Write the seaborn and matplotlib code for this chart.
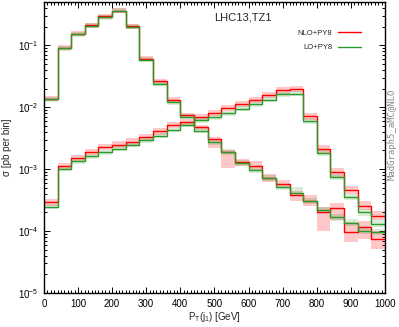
import numpy as np
import pandas as pd
import matplotlib
matplotlib.use('Agg')
import matplotlib.pyplot as plt
from matplotlib.ticker import MultipleLocator, LogLocator, NullFormatter
import seaborn as sns

# bin edges (40 GeV bins)
edges = np.arange(0, 1001, 40)

# 分布 A: 峰值在 ~200 GeV
nlo_a = [1.37e-2, 9.18e-2, 1.545e-1, 2.11e-1, 2.92e-1, 3.59e-1, 2.03e-1, 6.1e-2, 2.61e-2, 1.31e-2,
         7.43e-3, 4.7e-3, 3.06e-3, 1.88e-3, 1.29e-3, 1.13e-3, 7.2e-4, 5.75e-4, 3.79e-4, 3.09e-4,
         2.0e-4, 2.4e-4, 9.8e-5, 1.17e-4, 7.4e-5]
lo_a = [1.34e-2, 8.94e-2, 1.51e-1, 2.05e-1, 2.81e-1, 3.59e-1, 1.98e-1, 5.87e-2, 2.4e-2, 1.21e-2,
        6.95e-3, 4.2e-3, 2.72e-3, 1.87e-3, 1.24e-3, 9.8e-4, 7.2e-4, 5.2e-4, 4.05e-4, 3.09e-4,
        2.18e-4, 1.66e-4, 1.37e-4, 1.01e-4, 9.7e-5]

# 分布 B: 峰值在 ~750 GeV
nlo_b = [2.9e-4, 1.14e-3, 1.52e-3, 1.87e-3, 2.25e-3, 2.49e-3, 2.79e-3, 3.27e-3, 4.05e-3, 5.16e-3,
         5.83e-3, 6.82e-3, 8.07e-3, 9.73e-3, 1.117e-2, 1.306e-2, 1.55e-2, 1.866e-2, 1.94e-2, 7.08e-3,
         2.12e-3, 8.87e-4, 4.6e-4, 2.56e-4, 1.77e-4]
lo_b = [2.47e-4, 1.01e-3, 1.34e-3, 1.61e-3, 1.87e-3, 2.12e-3, 2.49e-3, 2.9e-3, 3.49e-3, 4.28e-3,
        5.2e-3, 6.1e-3, 6.9e-3, 8.0e-3, 9.44e-3, 1.11e-2, 1.32e-2, 1.61e-2, 1.65e-2, 5.94e-3,
        1.83e-3, 7.36e-4, 3.59e-4, 2.0e-4, 1.32e-4]

# 误差带 (dex, 上/下)
nlo_a_up = [0.04] * 13 + [0.03, 0.06, 0.07, 0.07, 0.07, 0.065, 0.09, 0.09, 0.08, 0.16, 0.10, 0.13]
nlo_a_dn = [0.04] * 12 + [0.15, 0.25, 0.06, 0.07, 0.07, 0.07, 0.10, 0.09, 0.30, 0.20, 0.16, 0.20, 0.16]
lo_a_up = [0.04] * 13 + [0.05, 0.05, 0.05, 0.05, 0.05, 0.10, 0.05, 0.05, 0.05, 0.06, 0.05, 0.05]
lo_a_dn = [0.04] * 13 + [0.05, 0.05, 0.05, 0.05, 0.05, 0.03, 0.05, 0.05, 0.05, 0.06, 0.05, 0.05]
nlo_b_up = [0.05] * 19 + [0.06, 0.06, 0.07, 0.07, 0.07, 0.07]
nlo_b_dn = [0.05] * 19 + [0.06, 0.06, 0.07, 0.07, 0.07, 0.07]
lo_b_up = [0.04] * 19 + [0.05] * 6
lo_b_dn = [0.04] * 19 + [0.05] * 6

red = '#ff0000'
green = '#2a9a2a'

sns.set_theme(style='ticks')
plt.rcParams['font.family'] = ['Liberation Sans', 'DejaVu Sans']
plt.rcParams['mathtext.fontset'] = 'custom'
plt.rcParams['mathtext.rm'] = 'Liberation Sans'

fig = plt.figure(figsize=(3.99, 3.27), dpi=100)
ax = fig.add_axes([0.110, 0.104, 0.855, 0.890])


def band(vals, up, dn, color, alpha):
    v = np.append(vals, vals[-1])
    u = np.append(up, up[-1])
    d = np.append(dn, dn[-1])
    ax.fill_between(edges, v / 10 ** np.array(d), v * 10 ** np.array(u),
                    step='post', color=color, alpha=alpha, lw=0)


def hist(vals, color, label=None):
    df = pd.DataFrame({'x': edges, 'y': np.append(vals, vals[-1])})
    sns.lineplot(data=df, x='x', y='y', ax=ax, color=color, lw=1.0,
                 drawstyle='steps-post', label=label)


band(nlo_a, nlo_a_up, nlo_a_dn, red, 0.22)
band(nlo_b, nlo_b_up, nlo_b_dn, red, 0.22)
band(lo_a, lo_a_up, lo_a_dn, green, 0.18)
band(lo_b, lo_b_up, lo_b_dn, green, 0.18)

hist(nlo_a, red, 'NLO+PY8')
hist(nlo_b, red)
hist(lo_a, green, 'LO+PY8')
hist(lo_b, green)

ax.set_yscale('log')
ax.set_xlim(0, 1000)
ax.set_ylim(1e-5, 0.5)
ax.xaxis.set_major_locator(MultipleLocator(100))
ax.xaxis.set_minor_locator(MultipleLocator(10))
ax.yaxis.set_major_locator(LogLocator(base=10, numticks=10))
ax.yaxis.set_minor_locator(LogLocator(base=10, subs=np.arange(2, 10), numticks=20))
ax.yaxis.set_minor_formatter(NullFormatter())
ax.tick_params(which='both', direction='in', top=True, right=True, colors='black',
               labelsize=7, width=0.7)
ax.tick_params(which='major', length=4, pad=4)
ax.tick_params(which='minor', length=2)
for s in ax.spines.values():
    s.set_color('black')
    s.set_linewidth(1.0)

ax.set_xlabel(r'P$_\mathregular{T}$(j$_\mathregular{1}$) [GeV]', fontsize=7, labelpad=1)
ax.set_ylabel('σ [pb per bin]', fontsize=7, labelpad=4)

ax.text(0.584, 0.945, 'LHC13,TZ1', transform=ax.transAxes, fontsize=8,
        ha='center', va='center')
fig.text(0.984, 0.59, 'MadGraph5_aMC@NLO', rotation=90, fontsize=6.5,
         family='DejaVu Sans Mono', color='#888888', ha='center', va='center')

ax.legend(loc='upper right', bbox_to_anchor=(0.93, 0.905), frameon=False,
          markerfirst=False, fontsize=5.5, handlelength=3.0, borderpad=0,
          borderaxespad=0, labelspacing=0.9, handletextpad=0.8)

fig.savefig('out.png', dpi=100)
